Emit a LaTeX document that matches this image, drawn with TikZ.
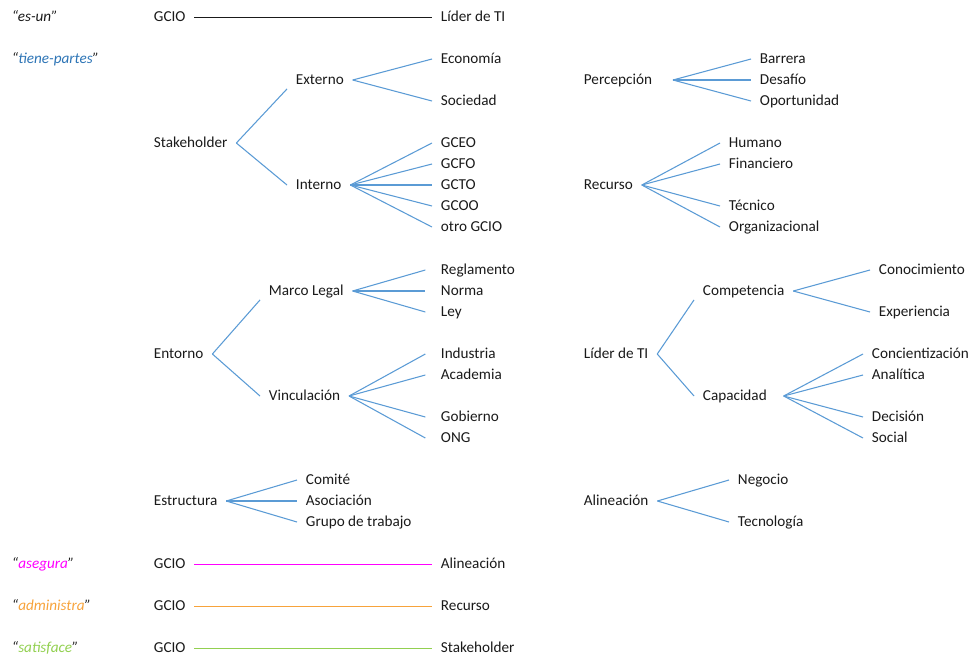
\documentclass[tikz,border=0pt]{standalone}
\usepackage{fontspec}
\setmainfont{Carlito}
\definecolor{inkgray}{HTML}{1A1A1A}
\definecolor{fanblue}{HTML}{5B9BD5}
\definecolor{tpblue}{HTML}{2E75B6}
\definecolor{relmagenta}{HTML}{FF00FF}
\definecolor{relorange}{HTML}{F7A33B}
\definecolor{relgreen}{HTML}{92D050}
\begin{document}
\begin{tikzpicture}[x=0.75pt,y=-0.75pt,
  term/.style={anchor=west,inner xsep=6.5pt,inner ysep=1pt,text height=9pt,text depth=2pt,
    text=inkgray,font=\fontsize{11.4}{13}\selectfont},
  relname/.style={term,font=\fontsize{11.4}{13}\selectfont\itshape},
  fan/.style={draw=fanblue,line width=0.8pt},
  rel/.style={line width=0.6pt}]
\useasboundingbox (0,0) rectangle (968,658);

% ---- es-un ----
\node[relname] (isa) at (3,17) {“es-un”};
\node[term] (gcioA) at (145,17) {GCIO};
\node[term] (liderA) at (432,17) {Líder de TI};
\draw[rel,draw=inkgray] (gcioA.east) -- (liderA.west);

% ---- tiene-partes ----
\node[relname] (hasparts) at (3,59) {“\textcolor{tpblue}{tiene-partes}”};

% Stakeholder
\node[term] (stk) at (145,143) {Stakeholder};
\node[term] (ext) at (287,80) {Externo};
\node[term] (int) at (287,185) {Interno};
\node[term] (eco) at (432,59) {Economía};
\node[term] (soc) at (432,101) {Sociedad};
\node[term] (gceo) at (432,143) {GCEO};
\node[term] (gcfo) at (432,164) {GCFO};
\node[term] (gcto) at (432,185) {GCTO};
\node[term] (gcoo) at (432,206) {GCOO};
\node[term] (otro) at (432,227) {otro GCIO};
\draw[fan] (stk.east) -- (ext.south west);
\draw[fan] (stk.east) -- (int.west);
\foreach \c in {eco,soc} \draw[fan] (ext.east) -- (\c.west);
\foreach \c in {gceo,gcfo,gcto,gcoo,otro} \draw[fan] (int.east) -- (\c.west);

% Percepcion
\node[term] (perc) at (575,80) {Percepción};
\node[term] (barr) at (751,59) {Barrera};
\node[term] (desa) at (751,80) {Desafío};
\node[term] (opor) at (751,101) {Oportunidad};
\foreach \c in {barr,desa,opor} \draw[fan] ([xshift=9pt]perc.east) -- (\c.west);

% Recurso
\node[term] (rec) at (575,185) {Recurso};
\node[term] (hum) at (720,143) {Humano};
\node[term] (fin) at (720,164) {Financiero};
\node[term] (tec) at (720,206) {Técnico};
\node[term] (org) at (720,227) {Organizacional};
\foreach \c in {hum,fin,tec,org} \draw[fan] (rec.east) -- (\c.west);

% Entorno
\node[term] (ent) at (145,354) {Entorno};
\node[term] (mar) at (260,291) {Marco Legal};
\node[term] (vin) at (260,396) {Vinculación};
\node[term] (regl) at (432,270) {Reglamento};
\node[term] (norm) at (432,291) {Norma};
\node[term] (ley) at (432,312) {Ley};
\node[term] (ind) at (432,354) {Industria};
\node[term] (aca) at (432,375) {Academia};
\node[term] (gob) at (432,417) {Gobierno};
\node[term] (ong) at (432,438) {ONG};
\draw[fan] (ent.east) -- (mar.south west);
\draw[fan] (ent.east) -- (vin.west);
\foreach \c in {regl,norm,ley} \draw[fan] (mar.east) -- ([xshift=-5pt]\c.west);
\foreach \c in {ind,aca,gob,ong} \draw[fan] (vin.east) -- ([xshift=-5pt]\c.west);

% Lider de TI
\node[term] (lid) at (575,354) {Líder de TI};
\node[term] (comp) at (694,291) {Competencia};
\node[term] (cap) at (694,396) {Capacidad};
\node[term] (cono) at (870,270) {Conocimiento};
\node[term] (expe) at (870,312) {Experiencia};
\node[term] (conc) at (863,354) {Concientización};
\node[term] (ana) at (863,375) {Analítica};
\node[term] (deci) at (863,417) {Decisión};
\node[term] (soci) at (863,438) {Social};
\draw[fan] (lid.east) -- (comp.south west);
\draw[fan] (lid.east) -- (cap.west);
\foreach \c in {cono,expe} \draw[fan] (comp.east) -- (\c.west);
\foreach \c in {conc,ana,deci,soci} \draw[fan] ([xshift=6pt]cap.east) -- (\c.west);

% Estructura
\node[term] (est) at (145,501) {Estructura};
\node[term] (comi) at (297,480) {Comité};
\node[term] (aso) at (297,501) {Asociación};
\node[term] (grp) at (297,522) {Grupo de trabajo};
\foreach \c in {comi,aso,grp} \draw[fan] (est.east) -- (\c.west);

% Alineacion
\node[term] (ali) at (575,501) {Alineación};
\node[term] (neg) at (729,480) {Negocio};
\node[term] (tecn) at (729,522) {Tecnología};
\foreach \c in {neg,tecn} \draw[fan] (ali.east) -- (\c.west);

% ---- asegura / administra / satisface ----
\node[relname] (ensures) at (3,564) {“\textcolor{relmagenta}{asegura}”};
\node[term] (gcioB) at (145,564) {GCIO};
\node[term] (aliB) at (432,564) {Alineación};
\draw[rel,draw=relmagenta] (gcioB.east) -- (aliB.west);

\node[relname] (manages) at (3,606) {“\textcolor{relorange}{administra}”};
\node[term] (gcioC) at (145,606) {GCIO};
\node[term] (recC) at (432,606) {Recurso};
\draw[rel,draw=relorange] (gcioC.east) -- (recC.west);

\node[relname] (satisfies) at (3,648) {“\textcolor{relgreen}{satisface}”};
\node[term] (gcioD) at (145,648) {GCIO};
\node[term] (stkD) at (432,648) {Stakeholder};
\draw[rel,draw=relgreen] (gcioD.east) -- (stkD.west);
\end{tikzpicture}
\end{document}
